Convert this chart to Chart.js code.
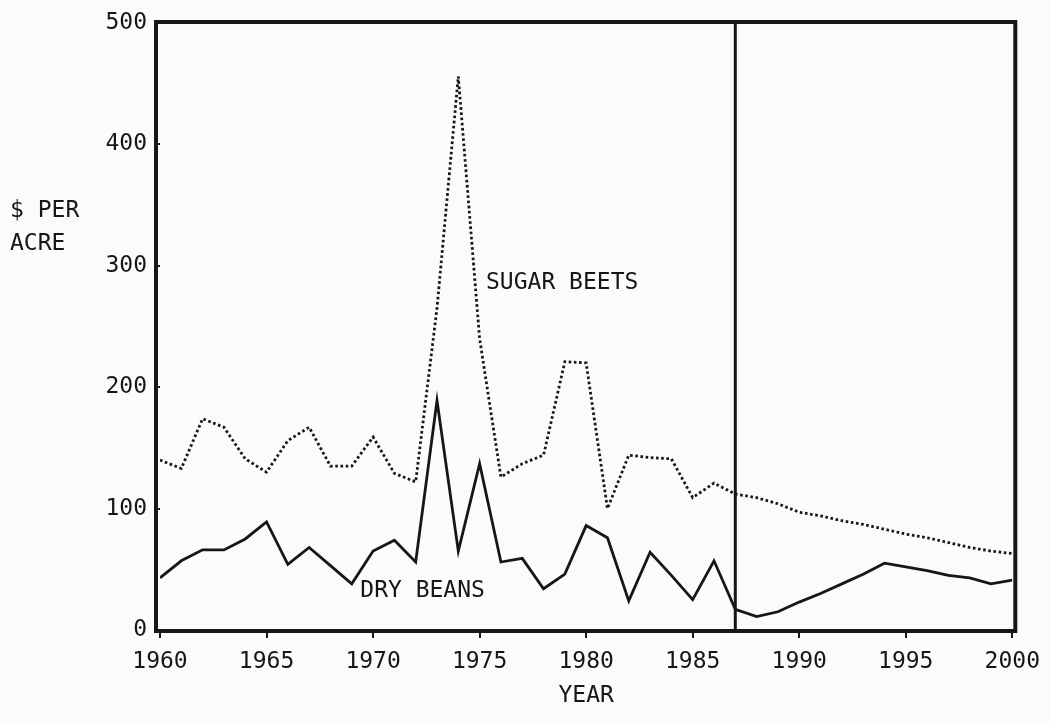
<!DOCTYPE html>
<html>
<head>
<meta charset="utf-8">
<script src="https://cdn.jsdelivr.net/npm/chart.js@4/dist/chart.umd.min.js"></script>
<style>
  html, body { margin: 0; padding: 0; background: #fbfbf9; }
  #wrap { width: 1050px; height: 722px; position: relative; }
</style>
</head>
<body>
<div id="wrap"><canvas id="returns-chart"></canvas></div>
<script>
// net returns, $ per acre, 1960-2000
const YEARS = [1960, 1961, 1962, 1963, 1964, 1965, 1966, 1967, 1968, 1969,
               1970, 1971, 1972, 1973, 1974, 1975, 1976, 1977, 1978, 1979,
               1980, 1981, 1982, 1983, 1984, 1985, 1986, 1987, 1988, 1989,
               1990, 1991, 1992, 1993, 1994, 1995, 1996, 1997, 1998, 1999, 2000]
const SUGAR_BEETS = [140, 133, 174, 167, 141, 130, 156, 167, 135, 135,
                     159, 129, 122, 265, 456, 240, 126, 137, 144, 221,
                     220, 100, 144, 142, 141, 109, 121, 112, 109, 104,
                     97, 94, 90, 87, 83, 79, 76, 72, 68, 65, 63]
const DRY_BEANS = [43, 57, 66, 66, 75, 89, 54, 68, 53, 38,
                   65, 74, 56, 189, 65, 137, 56, 59, 34, 46,
                   86, 76, 24, 64, 45, 25, 57, 17, 11, 15,
                   23, 30, 38, 46, 55, 52, 49, 45, 43, 38, 41]
const X_TICKS = [1960, 1965, 1970, 1975, 1980, 1985, 1990, 1995, 2000]
const Y_TICKS = [0, 100, 200, 300, 400, 500]
// history ends here, projections follow
const DIVIDER_YEAR = 1987

const FONT_FAMILY = '"DejaVu Sans Mono", "Liberation Mono", monospace'
const INK = '#161616'

const toPoints = (values) => YEARS.map((yr, i) => ({ x: yr, y: values[i] }))

// text placed in data units: [text, year, value]
const notes = [
    ['SUGAR BEETS', 1975.3, 286],
    ['DRY BEANS', 1969.4, 32],
]

const framePlugin = {
    id: 'frame',
    afterDatasetsDraw(chart) {
        const { ctx, chartArea, scales } = chart
        ctx.save()
        // box sits a little outside the plotting range
        ctx.strokeStyle = INK
        ctx.lineWidth = 4
        ctx.strokeRect(chartArea.left - 4, chartArea.top - 1,
                       chartArea.right - chartArea.left + 7, chartArea.bottom - chartArea.top + 2)

        ctx.fillStyle = INK
        ctx.font = '23px ' + FONT_FAMILY
        ctx.textBaseline = 'middle'
        ctx.textAlign = 'left'
        notes.forEach(([text, yr, val]) => {
            ctx.fillText(text, scales.x.getPixelForValue(yr), scales.y.getPixelForValue(val))
        })

        // y axis caption, two lines at the far left
        ctx.fillText('$ PER', 10, scales.y.getPixelForValue(345))
        ctx.fillText('ACRE', 10, scales.y.getPixelForValue(318))

        // x axis caption
        ctx.textAlign = 'center'
        ctx.fillText('YEAR', (chartArea.left + chartArea.right) / 2, chartArea.bottom + 66)
        ctx.restore()
    }
}

new Chart(document.getElementById('returns-chart'), {
    type: 'line',
    data: {
        datasets: [
            {
                label: 'Sugar beets',
                data: toPoints(SUGAR_BEETS),
                borderColor: INK,
                borderWidth: 2.8,
                borderDash: [2.6, 2.6],
                pointRadius: 0,
                tension: 0,
            },
            {
                label: 'Dry beans',
                data: toPoints(DRY_BEANS),
                borderColor: INK,
                borderWidth: 2.8,
                pointRadius: 0,
                tension: 0,
            },
            {
                label: 'divider',
                data: [{ x: DIVIDER_YEAR, y: Y_TICKS[0] }, { x: DIVIDER_YEAR, y: Y_TICKS[Y_TICKS.length - 1] }],
                borderColor: INK,
                borderWidth: 3,
                pointRadius: 0,
            },
        ],
    },
    options: {
        responsive: true,
        maintainAspectRatio: false,
        animation: false,
        devicePixelRatio: 1,
        layout: { padding: { top: 23, right: 34, left: 0, bottom: 0 } },
        plugins: {
            legend: { display: false },
            tooltip: { enabled: false },
        },
        scales: {
            x: {
                type: 'linear',
                min: X_TICKS[0],
                max: X_TICKS[X_TICKS.length - 1],
                afterBuildTicks: (scale) => { scale.ticks = X_TICKS.map(v => ({ value: v })) },
                afterFit: (scale) => { scale.height = 92 },
                ticks: {
                    callback: (v) => String(v),
                    color: INK,
                    font: { family: FONT_FAMILY, size: 23 },
                    padding: 10,
                    maxRotation: 0,
                    autoSkip: false,
                },
                grid: { drawOnChartArea: false, tickLength: 8, color: INK, lineWidth: 2 },
                border: { display: false },
            },
            y: {
                min: Y_TICKS[0],
                max: Y_TICKS[Y_TICKS.length - 1],
                afterBuildTicks: (scale) => { scale.ticks = Y_TICKS.map(v => ({ value: v })) },
                afterFit: (scale) => { scale.width = 160 },
                ticks: {
                    callback: (v) => String(v),
                    color: INK,
                    font: { family: FONT_FAMILY, size: 23 },
                    padding: 7,
                },
                grid: { drawOnChartArea: false, tickLength: 6, color: INK, lineWidth: 2 },
                border: { display: false },
            },
        },
    },
    plugins: [framePlugin],
})
</script>
</body>
</html>
